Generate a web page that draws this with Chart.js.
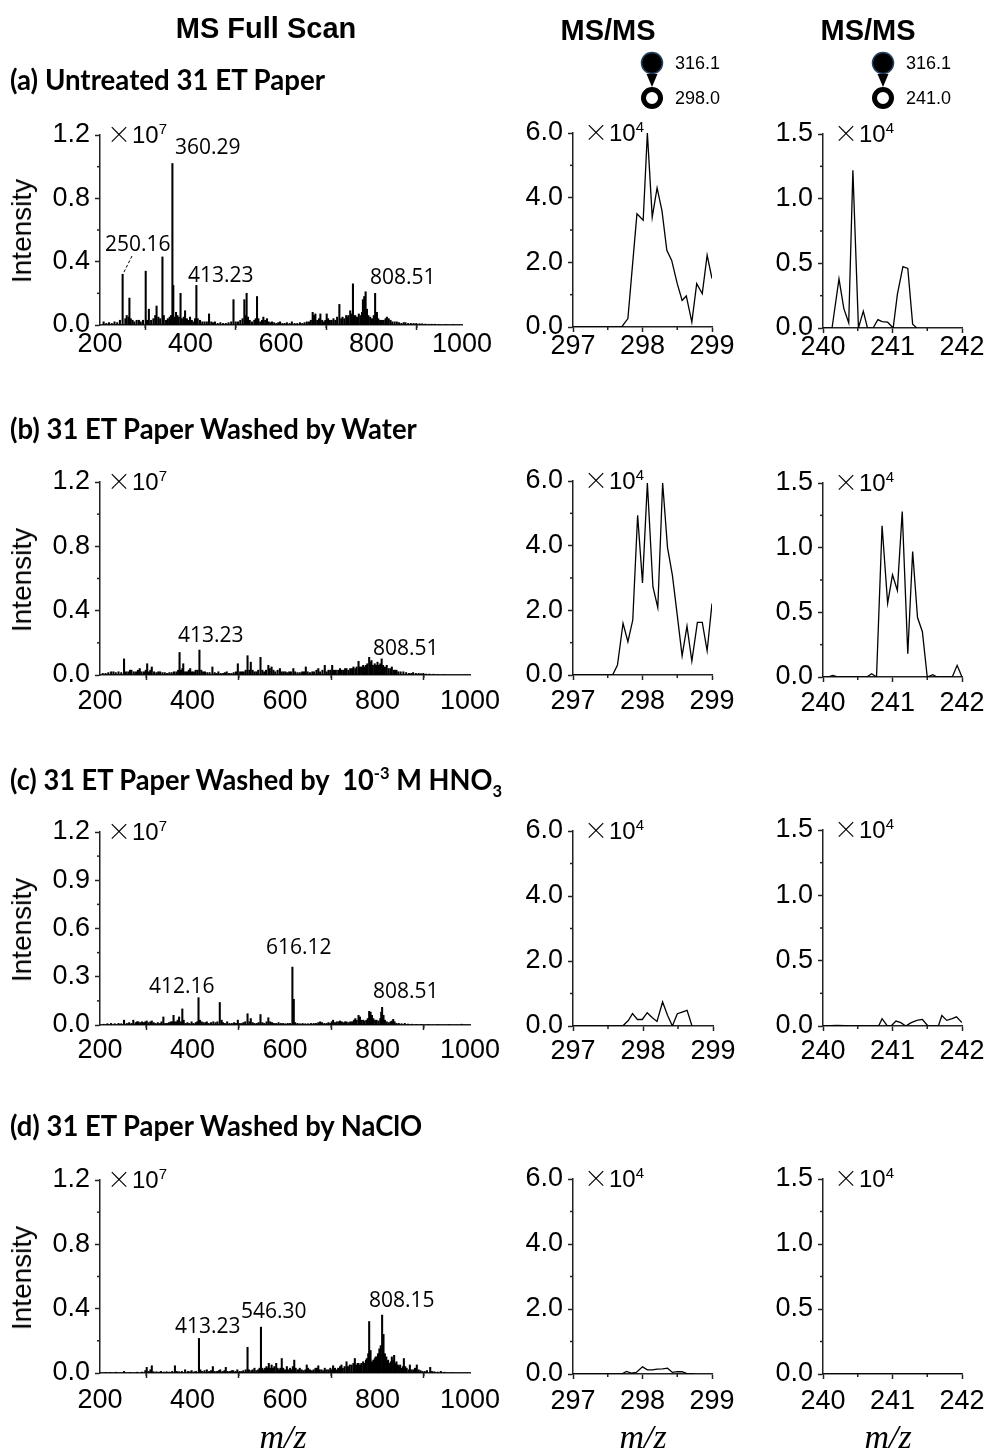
<!DOCTYPE html>
<html><head><meta charset="utf-8">
<script src="https://cdn.jsdelivr.net/npm/chart.js@4.4.0/dist/chart.umd.min.js"></script>
<style>
body{margin:0;background:#fff;width:989px;height:1452px;position:relative;overflow:hidden;font-family:"Liberation Sans",Arial,sans-serif;color:#000;}
canvas{position:absolute;}
.t{position:absolute;white-space:nowrap;line-height:1;}
.hd{font-weight:bold;font-size:29px;}
.ttl{font-family:Lato,"Open Sans",sans-serif;font-weight:bold;font-size:28px;transform-origin:0 50%;}
.ann{font-family:"Open Sans",sans-serif;font-size:21px;}
.mult{font-size:24px;}
.mult .x{font-family:"Noto Sans CJK SC",sans-serif;font-weight:300;font-size:24px;margin-right:1px;}
.mult sup{font-size:15px;vertical-align:0;position:relative;top:-9px;}
.ylab{font-size:28px;}
.mz{font-family:"Liberation Serif","Times New Roman",serif;font-style:italic;font-size:34px;}
.lg{font-size:18px;}
</style></head><body>
<script>
// full scan spectra, m/z and intensity (x10^7)
const mzA = [208,214,220,226,232,238,244,250,256,259,263,265,268,272,276,281,286,290,295,301,304,308,313,318,322,325,329,333,338,341,346,350,354,357,360,362,365,368,371,374,378,381,385,388,392,395,399,403,407,410,413,416,421,426,431,436,441,446,450,454,460,466,472,478,484,490,495,500,505,510,515,519,521,524,527,531,536,541,544,547,550,554,558,561,565,569,573,577,580,585,590,594,598,603,608,613,619,624,630,636,642,647,652,657,662,666,670,673,676,680,684,687,691,695,698,701,704,708,712,716,720,724,729,733,736,740,744,747,749,753,756,759,762,764,768,772,776,779,781,784,787,790,793,797,801,805,808,812,815,819,823,827,831,834,838,842,846,851,856,861,866,871,875,881,887,893,899,906,912,919,926,933,940,950,965,980];
const intA = [0.02,0.01,0.015,0.01,0.02,0.015,0.03,0.32,0.04,0.06,0.05,0.17,0.04,0.03,0.02,0.03,0.03,0.02,0.03,0.34,0.03,0.10,0.03,0.04,0.06,0.12,0.05,0.04,0.43,0.06,0.03,0.04,0.05,0.06,1.02,0.25,0.05,0.08,0.06,0.05,0.20,0.04,0.05,0.09,0.04,0.03,0.05,0.03,0.02,0.04,0.25,0.04,0.03,0.02,0.02,0.02,0.07,0.02,0.015,0.02,0.01,0.015,0.01,0.01,0.015,0.02,0.16,0.02,0.02,0.03,0.04,0.16,0.06,0.20,0.05,0.03,0.02,0.03,0.04,0.18,0.04,0.02,0.03,0.05,0.03,0.04,0.02,0.015,0.02,0.015,0.01,0.015,0.02,0.01,0.01,0.015,0.01,0.02,0.01,0.01,0.015,0.01,0.015,0.02,0.02,0.03,0.08,0.06,0.07,0.03,0.04,0.07,0.03,0.02,0.03,0.07,0.04,0.03,0.03,0.04,0.03,0.05,0.13,0.04,0.05,0.04,0.06,0.05,0.06,0.09,0.07,0.26,0.06,0.06,0.05,0.07,0.06,0.08,0.16,0.18,0.21,0.10,0.06,0.05,0.04,0.06,0.20,0.08,0.04,0.03,0.03,0.03,0.04,0.05,0.04,0.03,0.02,0.02,0.02,0.015,0.01,0.015,0.015,0.01,0.01,0.01,0.01,0.008,0.008,0.006,0.005,0.005,0.005,0.004,0.004,0.003];

const mzB = [206,212,218,224,229,234,240,246,252,256,261,265,268,273,278,282,286,290,295,299,302,306,309,312,317,322,326,330,335,340,345,350,355,360,365,369,372,375,378,380,384,388,392,395,399,403,407,411,415,419,423,427,432,437,443,448,452,456,461,466,470,474,479,484,489,494,498,503,507,511,515,519,523,526,530,534,538,542,547,551,555,559,564,567,571,575,579,584,589,593,597,601,605,609,613,618,622,627,632,637,641,645,649,654,659,663,668,672,676,681,686,690,694,698,702,706,710,715,719,723,727,730,733,737,741,745,748,752,755,759,762,766,769,772,775,778,782,785,787,790,794,797,800,803,806,809,812,816,820,824,828,831,835,838,841,845,850,856,862,868,873,877,883,889,894,899,905,912,921,930,945];
const intB = [0.01,0.01,0.015,0.02,0.02,0.015,0.02,0.015,0.10,0.02,0.02,0.03,0.03,0.02,0.02,0.03,0.04,0.02,0.02,0.03,0.07,0.02,0.03,0.05,0.02,0.015,0.02,0.02,0.015,0.015,0.01,0.015,0.015,0.02,0.02,0.03,0.14,0.03,0.04,0.07,0.02,0.02,0.03,0.04,0.02,0.02,0.03,0.03,0.155,0.03,0.02,0.02,0.015,0.015,0.05,0.015,0.01,0.02,0.01,0.01,0.015,0.02,0.01,0.01,0.015,0.02,0.07,0.02,0.02,0.02,0.03,0.12,0.03,0.08,0.03,0.02,0.02,0.03,0.11,0.03,0.02,0.03,0.06,0.04,0.05,0.03,0.02,0.03,0.04,0.02,0.02,0.02,0.015,0.02,0.02,0.04,0.02,0.015,0.015,0.02,0.02,0.05,0.02,0.015,0.02,0.02,0.03,0.04,0.02,0.03,0.06,0.02,0.03,0.03,0.06,0.03,0.03,0.03,0.04,0.03,0.03,0.04,0.04,0.03,0.04,0.04,0.05,0.04,0.05,0.085,0.05,0.05,0.06,0.05,0.06,0.07,0.11,0.08,0.09,0.06,0.07,0.06,0.08,0.06,0.07,0.10,0.06,0.05,0.06,0.04,0.04,0.05,0.03,0.03,0.03,0.02,0.02,0.02,0.015,0.01,0.01,0.015,0.01,0.01,0.008,0.01,0.006,0.006,0.005,0.004,0.003];

const mzC = [208,216,224,232,240,246,252,258,263,268,272,277,280,283,287,291,295,298,301,305,309,312,316,320,325,330,333,337,341,345,349,353,356,359,362,366,368,371,375,378,381,385,389,393,398,402,407,410,413,416,420,424,428,431,435,440,445,450,454,459,463,466,470,475,480,485,490,494,498,502,506,510,514,519,523,526,530,534,539,543,547,551,555,560,564,568,572,576,581,586,591,596,601,606,611,616,619,622,627,632,638,644,650,656,662,667,672,676,680,685,690,694,698,701,704,708,712,716,719,723,727,730,733,737,741,745,749,752,755,759,762,765,769,772,776,779,782,785,788,791,795,798,802,806,808,810,813,816,820,824,828,831,834,837,841,846,852,859,866,874,884,895,910,930,955,982];
const intC = [0.005,0.008,0.01,0.008,0.01,0.008,0.03,0.01,0.015,0.01,0.03,0.015,0.02,0.02,0.015,0.02,0.015,0.02,0.025,0.015,0.02,0.025,0.015,0.01,0.015,0.01,0.02,0.05,0.01,0.01,0.015,0.02,0.02,0.06,0.02,0.02,0.03,0.05,0.02,0.10,0.03,0.01,0.015,0.01,0.02,0.01,0.015,0.02,0.17,0.03,0.02,0.015,0.015,0.02,0.01,0.015,0.02,0.015,0.02,0.14,0.03,0.015,0.01,0.02,0.01,0.01,0.015,0.01,0.03,0.01,0.01,0.015,0.02,0.07,0.02,0.04,0.015,0.01,0.01,0.015,0.065,0.015,0.01,0.02,0.045,0.02,0.015,0.01,0.01,0.015,0.01,0.01,0.008,0.01,0.01,0.36,0.16,0.015,0.01,0.008,0.01,0.008,0.008,0.01,0.01,0.01,0.015,0.02,0.015,0.01,0.01,0.015,0.01,0.02,0.03,0.015,0.02,0.02,0.025,0.02,0.015,0.02,0.02,0.015,0.02,0.02,0.03,0.04,0.03,0.06,0.05,0.03,0.03,0.025,0.03,0.04,0.085,0.08,0.06,0.04,0.03,0.03,0.025,0.04,0.08,0.11,0.06,0.03,0.02,0.015,0.02,0.025,0.035,0.02,0.01,0.01,0.008,0.01,0.006,0.005,0.004,0.004,0.003,0.003,0.003,0.005];

const mzD = [212,222,235,252,265,280,291,298,301,305,309,312,316,322,328,332,338,344,350,356,362,366,371,377,384,390,394,398,404,408,414,417,421,426,431,436,440,444,448,453,457,460,465,469,472,476,481,485,488,493,497,502,506,510,515,519,522,527,530,534,538,542,545,548,551,554,557,560,563,565,568,571,574,577,581,584,587,590,593,596,600,604,607,611,614,617,620,623,627,630,632,636,640,644,647,650,654,658,662,666,669,672,675,679,683,686,690,694,698,701,704,708,712,715,719,722,725,729,733,736,740,744,748,751,754,757,759,762,765,769,772,775,777,780,782,785,788,791,794,796,798,801,804,807,810,813,816,819,821,823,826,829,831,834,836,839,841,844,847,849,852,855,857,860,863,867,870,874,878,881,885,889,893,897,902,907,914,918,923,930,937,945,960];
const intD = [0.004,0.004,0.005,0.01,0.004,0.005,0.006,0.015,0.035,0.01,0.02,0.045,0.008,0.008,0.006,0.01,0.006,0.008,0.006,0.01,0.045,0.01,0.008,0.01,0.02,0.01,0.008,0.015,0.008,0.01,0.215,0.02,0.01,0.015,0.02,0.01,0.015,0.04,0.01,0.01,0.015,0.02,0.01,0.015,0.035,0.01,0.01,0.015,0.015,0.01,0.02,0.01,0.01,0.015,0.02,0.16,0.02,0.015,0.02,0.03,0.015,0.02,0.03,0.285,0.03,0.02,0.03,0.04,0.03,0.06,0.03,0.05,0.03,0.04,0.06,0.03,0.02,0.03,0.09,0.03,0.02,0.04,0.02,0.03,0.02,0.04,0.08,0.03,0.02,0.02,0.03,0.02,0.015,0.02,0.05,0.03,0.02,0.015,0.02,0.03,0.03,0.045,0.02,0.02,0.015,0.03,0.02,0.02,0.03,0.02,0.045,0.03,0.02,0.03,0.04,0.05,0.03,0.04,0.07,0.04,0.05,0.05,0.06,0.09,0.05,0.06,0.06,0.05,0.06,0.07,0.06,0.08,0.09,0.12,0.32,0.14,0.07,0.08,0.09,0.10,0.10,0.12,0.15,0.17,0.36,0.24,0.12,0.10,0.07,0.08,0.06,0.07,0.10,0.08,0.11,0.06,0.07,0.05,0.04,0.05,0.03,0.04,0.09,0.04,0.03,0.02,0.05,0.02,0.02,0.03,0.05,0.02,0.015,0.01,0.01,0.015,0.035,0.01,0.008,0.006,0.01,0.005,0.003];

// MS/MS traces [m/z, intensity x10^4]
const ms298A = [[297.00,0],[297.70,0],[297.79,0.26],[297.92,3.50],[298.01,3.30],[298.07,6.00],[298.14,3.40],[298.21,4.30],[298.28,3.60],[298.35,2.37],[298.42,2.06],[298.50,1.34],[298.57,0.82],[298.63,0.96],[298.71,0.15],[298.78,1.34],[298.86,1.03],[298.93,2.22],[299.00,1.50]];
const ms241A = [[240.00,0],[240.13,0],[240.23,0.38],[240.30,0.15],[240.37,0.04],[240.43,1.22],[240.51,0],[240.58,0.13],[240.64,0],[240.72,0],[240.79,0.065],[240.85,0.05],[240.93,0.045],[241.01,0],[241.07,0.26],[241.15,0.475],[241.22,0.46],[241.29,0.03],[241.35,0]];
const ms298B = [[297.00,0],[297.57,0],[297.64,0.31],[297.72,1.60],[297.79,1.03],[297.86,1.70],[297.93,4.94],[298.00,2.85],[298.07,5.94],[298.15,2.73],[298.22,2.08],[298.29,5.94],[298.36,3.94],[298.43,3.09],[298.50,1.85],[298.57,0.59],[298.64,1.51],[298.71,0.43],[298.79,1.63],[298.86,1.63],[298.93,0.75],[299.00,2.21]];
const ms241B = [[240.00,0],[240.07,0],[240.14,0.013],[240.22,0],[240.63,0],[240.70,0.025],[240.77,0],[240.85,1.17],[240.93,0.57],[241.00,0.79],[241.07,0.67],[241.14,1.28],[241.22,0.18],[241.29,0.97],[241.36,0.46],[241.43,0.35],[241.50,0],[241.58,0.018],[241.64,0],[241.86,0],[241.93,0.09],[242.00,0]];
const ms298C = [[297.00,0],[297.71,0],[297.79,0.17],[297.85,0.38],[297.92,0.20],[297.99,0.20],[298.06,0.41],[298.13,0.26],[298.20,0.14],[298.28,0.74],[298.35,0.33],[298.42,0],[298.49,0.38],[298.56,0.43],[298.63,0.48],[298.70,0]];
const ms241C = [[240.00,0],[240.20,0.005],[240.45,0],[240.80,0],[240.85,0.056],[240.92,0.005],[240.98,0],[241.05,0.038],[241.12,0.026],[241.19,0],[241.27,0.026],[241.35,0.043],[241.43,0.05],[241.51,0],[241.59,0],[241.66,0],[241.71,0.08],[241.78,0.043],[241.86,0.056],[241.92,0.07],[242.00,0.026]];
const ms298D = [[297.00,0],[297.70,0],[297.77,0.08],[297.84,0.03],[297.91,0.05],[298.00,0.22],[298.07,0.13],[298.14,0.13],[298.21,0.15],[298.29,0.16],[298.36,0.18],[298.43,0.05],[298.50,0.07],[298.57,0.07],[298.64,0.01],[298.75,0]];
const ms241D = [[240.00,0],[242.00,0]];

// tick labels
const fullX = [200,400,600,800,1000];
const fullY = [0,0.4,0.8,1.2];
const fullYc = [0,0.3,0.6,0.9,1.2];
const x298 = [297,298,299];
const y298 = [0,2,4,6];
const x241 = [240,241,242];
const y241 = [0,0.5,1.0,1.5];

// peak labels per row
const labelsA = [['360.29',175,146],['250.16',105,243],['413.23',188,274],['808.51',370,276]];
const labelsB = [['413.23',178,634],['808.51',373,647]];
const labelsC = [['616.12',266,946],['412.16',149,985],['808.51',373,990]];
const labelsD = [['413.23',175,1325],['546.30',241,1310],['808.15',369,1299]];

const YW = 95, XH = 50, PT = 20, PR = 40;
const mids = a => a.slice(1).map((v,i) => (v + a[i]) / 2);

const minorTicks = {
  id:'minorTicks',
  afterDraw(chart, args, o){
    const ctx = chart.ctx, xs = chart.scales.x, ys = chart.scales.y;
    ctx.save(); ctx.strokeStyle = '#222'; ctx.lineWidth = 1.5;
    for(const v of o.x){ const p = xs.getPixelForValue(v); ctx.beginPath(); ctx.moveTo(p, ys.bottom); ctx.lineTo(p, ys.bottom + 3); ctx.stroke(); }
    for(const v of o.y){ const p = ys.getPixelForValue(v); ctx.beginPath(); ctx.moveTo(xs.left, p); ctx.lineTo(xs.left - 3, p); ctx.stroke(); }
    ctx.restore();
  }
};

function axis(min, max, majors, isX, fmt, pad){
  return {
    type:'linear', min, max, offset:false,
    afterBuildTicks: s => { s.ticks = majors.map(v => ({value:v})); },
    afterFit: s => { if(isX) s.height = XH; else s.width = YW; s.paddingLeft = s.paddingRight = s.paddingTop = s.paddingBottom = 0; },
    grid:{display:true, drawOnChartArea:false, drawTicks:true, tickLength:5, tickWidth:1.5, tickColor:'#222'},
    border:{display:true, color:'#222', width:1.5},
    ticks:{color:'#000', font:{family:'Liberation Sans', size:27}, padding:pad, maxRotation:0, autoSkip:false, callback:fmt}
  };
}

function panel(rect, type, dataset, xr, xt, yr, yt, xf, yf, xpad){
  const [x0,y0,x1,y1] = rect;
  const c = document.createElement('canvas');
  const w = x1 - x0 + YW + PR, h = y1 - y0 + PT + XH;
  c.width = w; c.height = h;
  c.style.left = (x0 - YW) + 'px'; c.style.top = (y0 - PT) + 'px';
  document.body.appendChild(c);
  new Chart(c, {
    type, data:{datasets:[dataset]},
    plugins:[minorTicks],
    options:{
      responsive:false, animation:false, events:[],
      layout:{padding:{top:PT, right:PR, bottom:0, left:0}},
      plugins:{legend:{display:false}, tooltip:{enabled:false}, minorTicks:{x:mids(xt), y:mids(yt)}},
      scales:{x:axis(xr[0], xr[1], xt, true, xf, xpad), y:axis(yr[0], yr[1], yt, false, yf, 5)}
    }
  });
}

const fx = v => String(v), f1 = v => v.toFixed(1);
function full(rect, mz, inten, yt, xpad){
  panel(rect, 'bar', {data:mz.map((m,i) => ({x:m, y:inten[i]})), backgroundColor:'#000', barThickness:1.4, borderWidth:0},
    [200,1000], fullX, [0,1.2], yt, fx, f1, xpad);
}
function msms(rect, pts, xr, xt, yr, yt, xpad){
  panel(rect, 'line', {data:pts.map(p => ({x:p[0], y:p[1]})), borderColor:'#000', borderWidth:1.3, pointRadius:0, tension:0},
    xr, xt, yr, yt, fx, f1, xpad);
}

const rows = [
  {full:[100,135,462,325], m1:[573,133,712,327], m2:[823,134,962,328], mz:mzA, it:intA, yt:fullY, a:ms298A, b:ms241A, lab:labelsA, xpad:-2},
  {full:[100,482,470,675], m1:[573,481,712,675], m2:[823,483,962,677], mz:mzB, it:intB, yt:fullY, a:ms298B, b:ms241B, lab:labelsB, xpad:5},
  {full:[100,832,470,1025], m1:[573,831,713,1026], m2:[823,830,962,1026], mz:mzC, it:intC, yt:fullYc, a:ms298C, b:ms241C, lab:labelsC, xpad:4},
  {full:[100,1180,470,1373], m1:[573,1179,712,1374], m2:[823,1179,962,1374], mz:mzD, it:intD, yt:fullY, a:ms298D, b:ms241D, lab:labelsD, xpad:6}
];

function text(html, x, y, cls, anchor){
  const d = document.createElement('div');
  d.className = 't ' + cls; d.innerHTML = html;
  d.style.left = x + 'px'; d.style.top = y + 'px';
  d.style.transform = anchor === 'c' ? 'translate(-50%,-50%)' : anchor === 'r' ? 'translate(-50%,-50%) rotate(-90deg)' : 'translate(0,-50%)';
  document.body.appendChild(d);
  return d;
}

for(const r of rows){
  full(r.full, r.mz, r.it, r.yt, r.xpad);
  msms(r.m1, r.a, [297,299], x298, [0,6], y298, r.xpad);
  msms(r.m2, r.b, [240,242], x241, [0,1.5], y241, r.xpad);
  text('<span class="x">×</span>10<sup>7</sup>', r.full[0] + 7, r.full[1] - 1, 'mult');
  text('<span class="x">×</span>10<sup>4</sup>', r.m1[0] + 11, r.m1[1] - 1, 'mult');
  text('<span class="x">×</span>10<sup>4</sup>', r.m2[0] + 11, r.m2[1] - 1, 'mult');
  text('Intensity', 22, (r.full[1] + r.full[3]) / 2 + 1, 'ylab', 'r');
  for(const [s,x,y] of r.lab) text(s, x, y, 'ann');
}

// dashed leader for the 250.16 label
const lead = document.createElementNS('http://www.w3.org/2000/svg','svg');
lead.setAttribute('width','989'); lead.setAttribute('height','1452');
lead.style.position = 'absolute'; lead.style.left = '0'; lead.style.top = '0';
lead.innerHTML = '<line x1="132" y1="256" x2="123" y2="274" stroke="#000" stroke-width="1" stroke-dasharray="3,2"/>';
document.body.appendChild(lead);

text('MS Full Scan', 266, 28, 'hd', 'c');
text('MS/MS', 608, 30, 'hd', 'c');
text('MS/MS', 868, 30, 'hd', 'c');
for(const [x,y,m] of [[675,63,'316.1'],[675,98,'298.0'],[906,63,'316.1'],[906,98,'241.0']]) text(m, x, y, 'lg');
for(const [x,y] of [[283,1437],[643,1437],[888,1437]]) text('m/z', x, y, 'mz', 'c');

const titles = [
  ['(a) Untreated 31 ET Paper', 79, 315],
  ['(b) 31 ET Paper Washed by Water', 428, 407],
  ['(c) 31 ET Paper Washed by &nbsp;10<sup style="font-size:17px;vertical-align:0;position:relative;top:-11px">-3</sup> M HNO<sub style="font-size:17px;vertical-align:0;position:relative;top:7px">3</sub>', 779, 492],
  ['(d) 31 ET Paper Washed by NaClO', 1125, 412]
];
for(const [s,y,w] of titles){
  const d = text(s, 10, y, 'ttl');
  const k = w / d.getBoundingClientRect().width;
  d.style.transform = 'translate(0,-50%) scaleX(' + k.toFixed(3) + ')';
}

// precursor -> product legend glyphs
const svg = document.createElementNS('http://www.w3.org/2000/svg','svg');
svg.setAttribute('width','989'); svg.setAttribute('height','120');
svg.style.position = 'absolute'; svg.style.left = '0'; svg.style.top = '0';
svg.innerHTML = [652, 883].map(cx => `<circle cx="${cx}" cy="63" r="10.5" fill="#000" stroke="#243f60" stroke-width="1.5"/><polygon points="${cx-5.5},74 ${cx+5.5},74 ${cx},87" fill="#000"/><circle cx="${cx}" cy="98" r="8.5" fill="#fff" stroke="#000" stroke-width="5"/>`).join('');
document.body.appendChild(svg);
</script>
</body></html>
